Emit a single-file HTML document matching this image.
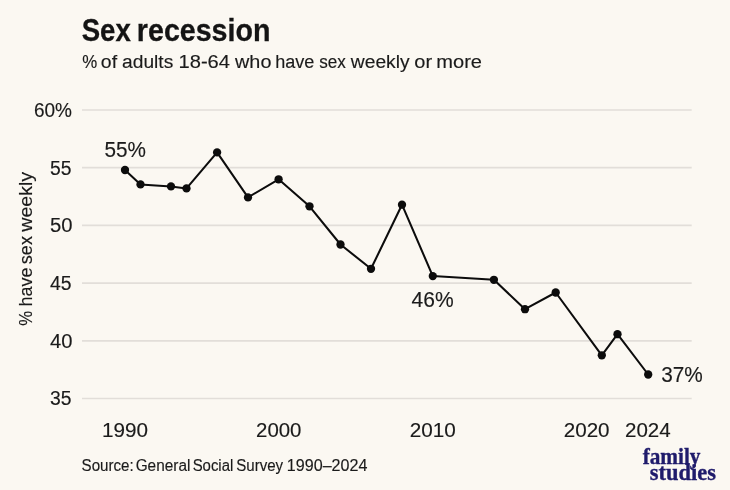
<!DOCTYPE html>
<html lang="en">
<head>
<meta charset="utf-8">
<title>Sex recession</title>
<style>
html,body{margin:0;padding:0;background:#fbf8f2;}
body{width:730px;height:490px;overflow:hidden;}
svg{display:block;will-change:transform;}
text{font-family:"Liberation Sans",sans-serif;fill:#1b1b1b;stroke:#1b1b1b;stroke-width:0.15px;}
.title text{fill:#141414;stroke:#141414;stroke-width:0.3px;}
.logo text{font-family:"Liberation Serif",serif;fill:#1f1b6b;stroke:#1f1b6b;stroke-width:0.35px;}
</style>
</head>
<body>
<svg width="730" height="490" viewBox="0 0 730 490">
<rect width="730" height="490" fill="#fbf8f2"/>
<g class="title">
<text font-size="31" font-weight="bold" y="41.4"><tspan x="81.66" textLength="49.07" lengthAdjust="spacingAndGlyphs">Sex</tspan> <tspan x="136.86" textLength="133.57" lengthAdjust="spacingAndGlyphs">recession</tspan></text>
</g>
<g class="subtitle">
<text font-size="18.8" y="68.4"><tspan x="82.17" textLength="14.98" lengthAdjust="spacingAndGlyphs">%</tspan> <tspan x="100.89" textLength="16.24" lengthAdjust="spacingAndGlyphs">of</tspan> <tspan x="122.1" textLength="51.2" lengthAdjust="spacingAndGlyphs">adults</tspan> <tspan x="178.49" textLength="51.51" lengthAdjust="spacingAndGlyphs">18-64</tspan> <tspan x="235.06" textLength="36.4" lengthAdjust="spacingAndGlyphs">who</tspan> <tspan x="275.22" textLength="39.21" lengthAdjust="spacingAndGlyphs">have</tspan> <tspan x="319.13" textLength="26.63" lengthAdjust="spacingAndGlyphs">sex</tspan> <tspan x="350.85" textLength="58.8" lengthAdjust="spacingAndGlyphs">weekly</tspan> <tspan x="414.27" textLength="17.78" lengthAdjust="spacingAndGlyphs">or</tspan> <tspan x="436.24" textLength="45.77" lengthAdjust="spacingAndGlyphs">more</tspan></text>
</g>
<g class="grid" stroke="#e2ded9" stroke-width="1.7" fill="none">
<line x1="82" x2="691.7" y1="110" y2="110"/>
<line x1="82" x2="691.7" y1="167.7" y2="167.7"/>
<line x1="82" x2="691.7" y1="225.4" y2="225.4"/>
<line x1="82" x2="691.7" y1="283.1" y2="283.1"/>
<line x1="82" x2="691.7" y1="340.8" y2="340.8"/>
<line x1="82" x2="691.7" y1="398.5" y2="398.5"/>
</g>
<g class="yticks">
<text font-size="20" y="116.8"><tspan x="33.96" textLength="38.06" lengthAdjust="spacingAndGlyphs">60%</tspan></text>
<text font-size="20" y="174.5"><tspan x="50.09" textLength="21.54" lengthAdjust="spacingAndGlyphs">55</tspan></text>
<text font-size="20" y="232.2"><tspan x="49.92" textLength="22.54" lengthAdjust="spacingAndGlyphs">50</tspan></text>
<text font-size="20" y="289.9"><tspan x="50.05" textLength="21.59" lengthAdjust="spacingAndGlyphs">45</tspan></text>
<text font-size="20" y="347.6"><tspan x="49.98" textLength="22.47" lengthAdjust="spacingAndGlyphs">40</tspan></text>
<text font-size="20" y="405.3"><tspan x="50.09" textLength="21.54" lengthAdjust="spacingAndGlyphs">35</tspan></text>
</g>
<g class="ylabel">
<text font-size="18.5" transform="translate(32.3,325.4) rotate(-90)" y="0"><tspan x="-0.47" textLength="14.87" lengthAdjust="spacingAndGlyphs">%</tspan> <tspan x="18.98" textLength="38.79" lengthAdjust="spacingAndGlyphs">have</tspan> <tspan x="61.22" textLength="28.14" lengthAdjust="spacingAndGlyphs">sex</tspan> <tspan x="93.75" textLength="59.8" lengthAdjust="spacingAndGlyphs">weekly</tspan></text>
</g>
<g class="xticks">
<text font-size="20" y="437.3"><tspan x="101.91" textLength="46.01" lengthAdjust="spacingAndGlyphs">1990</tspan></text>
<text font-size="20" y="437.3"><tspan x="256.04" textLength="45.42" lengthAdjust="spacingAndGlyphs">2000</tspan></text>
<text font-size="20" y="437.3"><tspan x="409.73" textLength="46.09" lengthAdjust="spacingAndGlyphs">2010</tspan></text>
<text font-size="20" y="437.3"><tspan x="563.68" textLength="45.93" lengthAdjust="spacingAndGlyphs">2020</tspan></text>
<text font-size="20" y="437.3"><tspan x="625.04" textLength="45.67" lengthAdjust="spacingAndGlyphs">2024</tspan></text>
</g>
<polyline fill="none" stroke="#0c0c0c" stroke-width="2.05" stroke-linejoin="round" points="125,170 140.5,184.4 171,186.4 186.5,188.4 217.1,152.4 248,197.4 278.6,179.3 309.5,206.3 340.5,244.5 371,268.8 402,204.7 432.8,276.1 493.9,279.8 525,309.2 555.7,292.5 601.8,355.3 617.5,334.2 648.2,374.5"/>
<g class="dots" fill="#0c0c0c">
<circle cx="125" cy="170" r="4.15"/><circle cx="140.5" cy="184.4" r="4.15"/><circle cx="171" cy="186.4" r="4.15"/><circle cx="186.5" cy="188.4" r="4.15"/><circle cx="217.1" cy="152.4" r="4.15"/><circle cx="248" cy="197.4" r="4.15"/><circle cx="278.6" cy="179.3" r="4.15"/><circle cx="309.5" cy="206.3" r="4.15"/><circle cx="340.5" cy="244.5" r="4.15"/><circle cx="371" cy="268.8" r="4.15"/><circle cx="402" cy="204.7" r="4.15"/><circle cx="432.8" cy="276.1" r="4.15"/><circle cx="493.9" cy="279.8" r="4.15"/><circle cx="525" cy="309.2" r="4.15"/><circle cx="555.7" cy="292.5" r="4.15"/><circle cx="601.8" cy="355.3" r="4.15"/><circle cx="617.5" cy="334.2" r="4.15"/><circle cx="648.2" cy="374.5" r="4.15"/>
</g>
<g class="labels">
<text font-size="21.6" y="156.8"><tspan x="104.55" textLength="41.42" lengthAdjust="spacingAndGlyphs">55%</tspan></text>
<text font-size="21.6" y="307"><tspan x="411.52" textLength="42.11" lengthAdjust="spacingAndGlyphs">46%</tspan></text>
<text font-size="21.6" y="382.3"><tspan x="661.2" textLength="41.57" lengthAdjust="spacingAndGlyphs">37%</tspan></text>
</g>
<g class="source">
<text font-size="15.6" y="470.6"><tspan x="81.58" textLength="52.14" lengthAdjust="spacingAndGlyphs">Source:</tspan> <tspan x="135.63" textLength="54.74" lengthAdjust="spacingAndGlyphs">General</tspan> <tspan x="192.63" textLength="40.7" lengthAdjust="spacingAndGlyphs">Social</tspan> <tspan x="236.28" textLength="46.87" lengthAdjust="spacingAndGlyphs">Survey</tspan> <tspan x="286.89" textLength="80.51" lengthAdjust="spacingAndGlyphs">1990–2024</tspan></text>
</g>
<g class="logo">
<text font-size="23.4" font-weight="bold" y="463.5"><tspan x="642.65" textLength="57.85" lengthAdjust="spacingAndGlyphs">family</tspan></text>
<text font-size="23.4" font-weight="bold" y="479.5"><tspan x="649.85" textLength="66.12" lengthAdjust="spacingAndGlyphs">studies</tspan></text>
</g>
</svg>
</body>
</html>
